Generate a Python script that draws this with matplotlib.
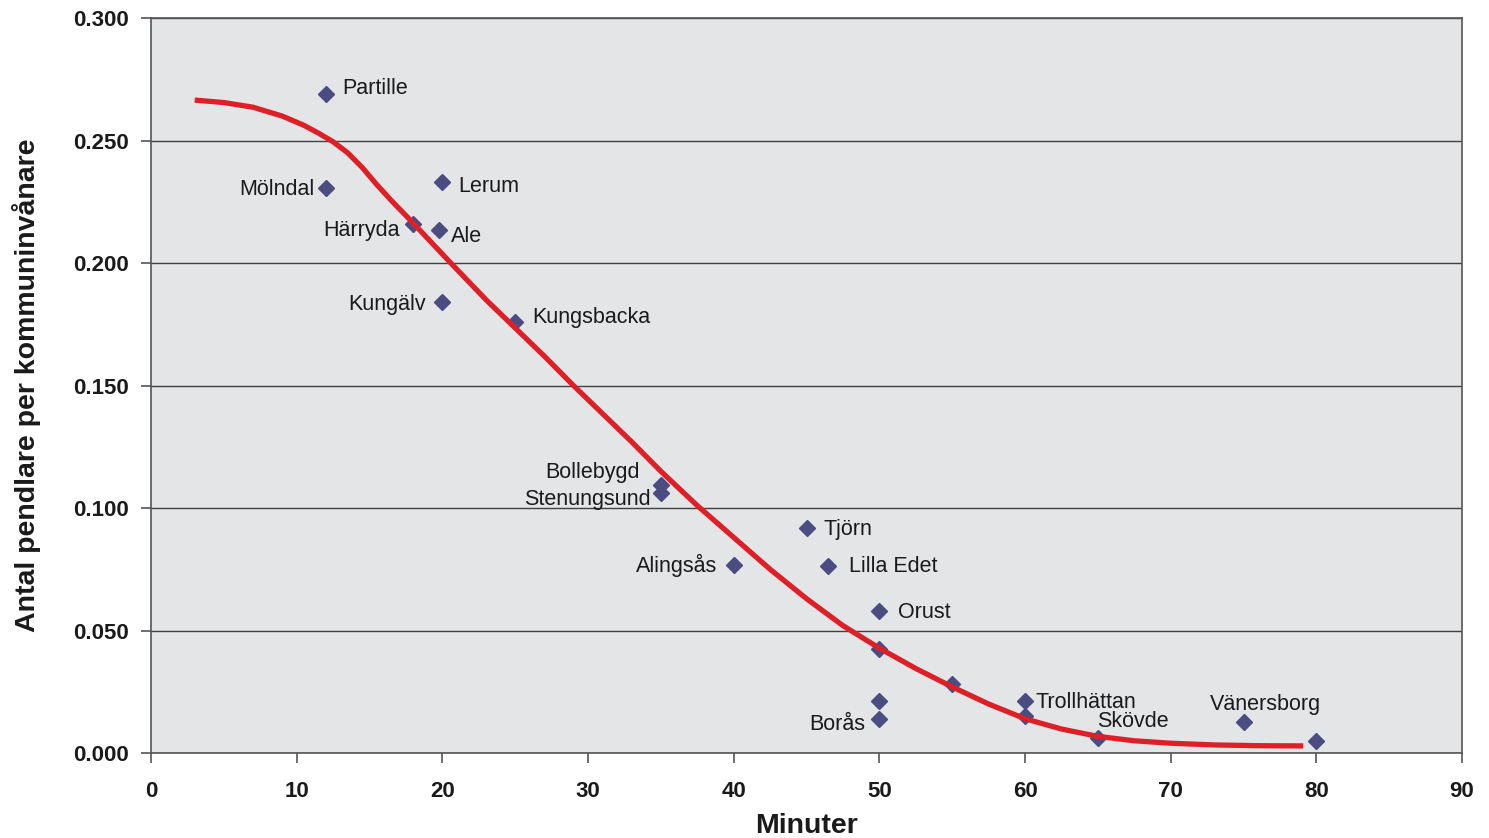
import matplotlib
matplotlib.use("Agg")
import matplotlib.pyplot as plt

plt.rcParams['font.family'] = ['Liberation Sans', 'DejaVu Sans']

# Commuters per inhabitant vs travel time (minutes)
kommuner = ["Partille", "Mölndal", "Lerum", "Härryda", "Ale", "Kungälv",
            "Kungsbacka", "Bollebygd", "Stenungsund", "Tjörn", "Alingsås",
            "Lilla Edet", "Orust", "", "", "Borås", "", "Trollhättan", "",
            "Skövde", "Vänersborg", ""]
minuter = [12, 12, 20, 18, 19.8, 20, 25, 35, 35, 45, 40, 46.5, 50, 50, 50,
           50, 55, 60, 60, 65, 75, 80]
andel = [0.269, 0.2305, 0.233, 0.216, 0.2135, 0.184, 0.176, 0.1095, 0.106,
         0.092, 0.0768, 0.0763, 0.058, 0.0425, 0.0212, 0.0139, 0.0282,
         0.0212, 0.0151, 0.0061, 0.0127, 0.0049]

# trend curve
kurva_x = [3, 5, 7, 9, 10.5, 11.5, 12.5, 13.5, 14.5, 15.5, 16.5, 18, 20.5,
           23, 25, 27, 29, 31, 33, 35, 37.5, 40, 42.5, 45, 47.5, 50, 52.5,
           55, 57.5, 60, 62.5, 65, 67.5, 70, 73, 76, 79.1]
kurva_y = [0.2665, 0.2655, 0.2636, 0.2600, 0.2562, 0.2530, 0.2495, 0.2450,
           0.2390, 0.2320, 0.2255, 0.2163, 0.2005, 0.1850, 0.1735, 0.1620,
           0.1500, 0.1385, 0.1270, 0.1150, 0.1010, 0.0880, 0.0750, 0.0630,
           0.0520, 0.0428, 0.0345, 0.0270, 0.0200, 0.0140, 0.0098, 0.0068,
           0.0050, 0.0040, 0.0033, 0.0030, 0.0029]

# label placement: (dx px, dy px, ha)
placering = {
    "Partille": (16, 5, "left"), "Mölndal": (-11, -1, "right"),
    "Lerum": (16, -4, "left"), "Härryda": (-13, -7, "right"),
    "Ale": (12, -7, "left"), "Kungälv": (-16, -2, "right"),
    "Kungsbacka": (17, 4, "left"), "Bollebygd": (-21, 12, "right"),
    "Stenungsund": (-10, -6, "right"), "Tjörn": (17, -2, "left"),
    "Alingsås": (-16, -1, "right"), "Lilla Edet": (21, 0, "left"),
    "Orust": (19, -2, "left"), "Borås": (-14, -6, "right"),
    "Trollhättan": (10, -1, "left"), "Skövde": (-1, 17, "left"),
    "Vänersborg": (-34, 17, "left"),
}

fig = plt.figure(figsize=(14.89, 8.38), dpi=100)
ax = fig.add_axes([0.1014, 0.1014, 0.8805, 0.8771])
ax.set_facecolor("#e4e5e7")

ax.plot(minuter, andel, linestyle="none", marker="D", markersize=8.2,
        color="#4a4c82", zorder=3)
ax.plot(kurva_x, kurva_y, color="#dd2027", linewidth=3.8, zorder=4,
        solid_capstyle="butt", solid_joinstyle="round")

for namn, x, y in zip(kommuner, minuter, andel):
    if not namn:
        continue
    dx, dy, ha = placering[namn]
    ax.annotate(namn, (x, y), xytext=(dx, dy), textcoords="offset pixels",
                ha=ha, va="center", fontsize=15.5, color="#1a1a1a", zorder=5)

ax.set_xlim(0, 90)
ax.set_ylim(0, 0.3)
ax.set_xticks(range(0, 91, 10))
ax.set_yticks([0, 0.05, 0.1, 0.15, 0.2, 0.25, 0.3])
ax.set_yticklabels(["%.3f" % v for v in ax.get_yticks()])
ax.yaxis.grid(True, color="#404040", linewidth=1.0)
ax.set_axisbelow(True)

for s in ax.spines.values():
    s.set_color("#555555")
    s.set_linewidth(1.2)

ax.tick_params(axis="both", direction="out", length=7, width=1.2,
               color="#555555", labelsize=16, labelcolor="#1a1a1a")
ax.tick_params(axis="x", pad=13)
ax.tick_params(axis="y", pad=9)
for lab in ax.get_xticklabels() + ax.get_yticklabels():
    lab.set_fontweight("bold")

ax.set_xlabel("Minuter", fontsize=20.5, fontweight="bold", labelpad=8,
              color="#1a1a1a")
ax.set_ylabel("Antal pendlare per kommuninvånare", fontsize=20.5,
              fontweight="bold", labelpad=23, color="#1a1a1a")

fig.savefig("out.png", dpi=100, facecolor="white")
